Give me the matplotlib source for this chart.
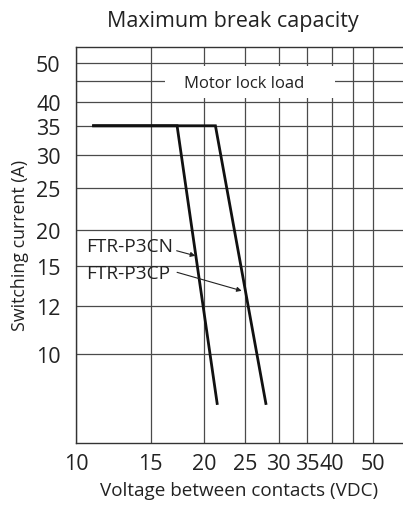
import numpy as np
import matplotlib
matplotlib.use('Agg')
import matplotlib.pyplot as plt
from matplotlib.patches import Rectangle

plt.rcParams['font.family'] = ['Open Sans', 'DejaVu Sans']

# ---- data ----
p3cn_v = [11.0, 17.3, 21.5]
p3cn_a = [35.0, 35.0, 7.6]
p3cp_v = [11.0, 21.3, 28.0]
p3cp_a = [35.0, 35.0, 7.6]
motor_lock_a = 45.0

x_ticks = [10, 15, 20, 25, 30, 35, 40, 45, 50]
x_labels = ['10', '15', '20', '25', '30', '35', '40', '', '50']
y_ticks = [10, 12, 15, 20, 25, 30, 35, 40, 50]
y_labels = ['10', '12', '15', '20', '25', '30', '35', '40', '50']

# The printed current axis is roughly logarithmic but the grid rows are not
# evenly spaced, so map log(value) to the printed row height (pixels from top).
grid_log = np.log10([1, 10, 12, 15, 20, 25, 30, 35, 40, 50, 100])
grid_pos = -np.array([771.7, 354.7, 307.3, 267.3, 230.7, 189.0, 156.0,
                      126.7, 103.0, 63.7, -61.8])


def y_forward(v):
    v = np.clip(np.asarray(v, dtype=float), 1e-3, None)
    return np.interp(np.log10(v), grid_log, grid_pos)


def y_inverse(p):
    return 10 ** np.interp(np.asarray(p, dtype=float), grid_pos, grid_log)


TEXT = '#222222'
GRID = '#4a4a4a'

fig = plt.figure(figsize=(4.03, 5.10), dpi=100)
ax = fig.add_axes([76 / 403, 66 / 510, 1 - 76 / 403, 396.5 / 510])

ax.set_xscale('log')
ax.set_yscale('function', functions=(y_forward, y_inverse))
ax.set_xlim(10, 58.9)
ax.set_ylim(6.11, 54.7)

ax.set_xticks(x_ticks)
ax.set_xticklabels(x_labels)
ax.set_yticks(y_ticks)
ax.set_yticklabels(y_labels)
ax.xaxis.set_minor_locator(plt.NullLocator())
ax.yaxis.set_minor_locator(plt.NullLocator())
ax.tick_params(length=0, labelsize=15.5, colors=TEXT)
ax.tick_params(axis='x', pad=7)
ax.tick_params(axis='y', pad=11)

ax.set_axisbelow(True)
ax.grid(True, color=GRID, lw=0.9)
for side in ['left', 'bottom', 'top']:
    ax.spines[side].set_color('#333333')
    ax.spines[side].set_linewidth(1.0)
ax.spines['right'].set_visible(False)

# Motor lock load line with a label that blanks out the grid behind it
ax.axhline(motor_lock_a, color=GRID, lw=0.9, zorder=1)
ax.add_patch(Rectangle((16.2, 41.0), 40.7 - 16.2, 49.0 - 41.0,
                       facecolor='white', edgecolor='none', zorder=1.5))
ax.text(24.9, 44.6, 'Motor lock load', fontsize=12, color=TEXT,
        ha='center', va='center', zorder=3)

ax.plot(p3cn_v, p3cn_a, color='#111111', lw=2.0, zorder=2.5,
        solid_joinstyle='miter')
ax.plot(p3cp_v, p3cp_a, color='#111111', lw=2.0, zorder=2.5,
        solid_joinstyle='miter')

arrow = dict(arrowstyle='-|>', color='#222222', lw=0.8,
             mutation_scale=7, shrinkA=0, shrinkB=0)
ax.text(10.55, 17.6, 'FTR-P3CN', fontsize=13.7, color=TEXT,
        ha='left', va='center', zorder=3)
ax.annotate('', xy=(19.1, 16.3), xytext=(17.26, 16.96), arrowprops=arrow)
ax.text(10.55, 14.45, 'FTR-P3CP', fontsize=13.7, color=TEXT,
        ha='left', va='center', zorder=3)
ax.annotate('', xy=(24.56, 13.09), xytext=(17.3, 14.51), arrowprops=arrow)

ax.set_xlabel('Voltage between contacts (VDC)', fontsize=13.6, color=TEXT,
              labelpad=5)
ax.set_ylabel('Switching current (A)', fontsize=12.8, color=TEXT, labelpad=5)
fig.text(233 / 403, 1 - 21 / 510, 'Maximum break capacity', fontsize=15.5,
         color=TEXT, ha='center', va='center')

fig.savefig('out.png', dpi=100)
